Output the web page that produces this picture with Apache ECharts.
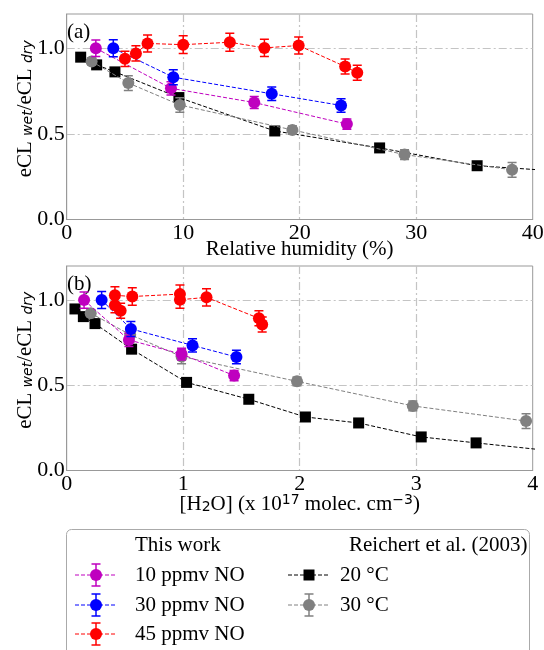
<!DOCTYPE html>
<html><head><meta charset="utf-8">
<script src="https://cdn.jsdelivr.net/npm/echarts@6/dist/echarts.min.js"></script>
<style>html,body{margin:0;padding:0;background:#fff}#c{width:544px;height:650px}</style>
</head><body><div id="c"></div><script>
// ---- data ----
const rhTicks = [0, 10, 20, 30, 40];
const h2oTicks = [0, 1, 2, 3, 4];
const yTicks = [0.0, 0.5, 1.0];

// This work, 10 ppmv NO
const no10_rh = [2.5, 8.95, 16.1, 24.05];
const no10_h2o = [0.149, 0.534, 0.986, 1.437];
const no10_y = [1.0, 0.766, 0.683, 0.557];
const no10_err = [0.048, 0.039, 0.035, 0.03];
// This work, 30 ppmv NO
const no30_rh = [4.0, 9.15, 17.6, 23.55];
const no30_h2o = [0.30, 0.551, 1.08, 1.457];
const no30_y = [1.0, 0.831, 0.734, 0.666];
const no30_err = [0.05, 0.044, 0.039, 0.039];
// This work, 45 ppmv NO
const no45_rh = [5.0, 5.94, 6.94, 10.0, 14.0, 16.97, 19.91, 23.9, 24.94];
const no45_h2o = [0.463, 0.414, 0.414, 0.563, 0.972, 0.972, 1.20, 1.65, 1.678];
const no45_y = [0.938, 0.97, 1.028, 1.021, 1.035, 1.002, 1.016, 0.893, 0.857];
const no45_err = [0.044, 0.045, 0.05, 0.052, 0.053, 0.05, 0.05, 0.044, 0.044];
// Reichert et al. (2003), 20 °C
const t20_rh = [1.2, 2.57, 4.14, 9.63, 17.86, 26.86, 35.23, 43.0, 52.3, 60.4, 77.4];
const t20_h2o = [0.071, 0.143, 0.243, 0.557, 1.029, 1.563, 2.049, 2.506, 3.043, 3.514, 4.5];
const t20_y = [0.948, 0.903, 0.862, 0.712, 0.517, 0.418, 0.314, 0.279, 0.197, 0.162, 0.091];
// Reichert et al. (2003), 30 °C
const t30_rh = [2.14, 5.29, 9.71, 19.37, 29.0, 38.23];
const t30_h2o = [0.206, 0.545, 0.986, 1.977, 2.971, 3.943];
const t30_y = [0.923, 0.797, 0.669, 0.523, 0.379, 0.29];
const t30_err = [0.02, 0.043, 0.042, 0.025, 0.029, 0.043];

// ---- styles ----
const SERIF = 'Liberation Serif';
const FS = 21;
const C = {m: '#bf00bf', b: '#0000ff', r: '#ff0000', k: '#000000', g: '#808080'};

const zip = (xs, ys) => xs.map((x, i) => [x, ys[i]]);

function lineSeries(xs, ys, color, symbol, size, gi, z) {
  return {
    type: 'line', xAxisIndex: gi, yAxisIndex: gi, data: zip(xs, ys),
    symbol: symbol, symbolSize: size, showSymbol: true, clip: true,
    itemStyle: {color: color}, lineStyle: {color: color, width: 1, type: [4, 2]},
    emphasis: {disabled: true}, z: z, silent: true
  };
}
function errSeries(xs, ys, es, color, gi, z) {
  return {
    type: 'custom', xAxisIndex: gi, yAxisIndex: gi, clip: true, z: z, silent: true,
    data: xs.map((x, i) => [x, ys[i] - es[i], ys[i] + es[i]]),
    encode: {x: 0, y: [1, 2]},
    renderItem: function (params, api) {
      const lo = api.coord([api.value(0), api.value(1)]);
      const hi = api.coord([api.value(0), api.value(2)]);
      const w = 4.5, st = {stroke: color, lineWidth: 1.5};
      return {type: 'group', children: [
        {type: 'line', shape: {x1: lo[0], y1: lo[1], x2: hi[0], y2: hi[1]}, style: st},
        {type: 'line', shape: {x1: lo[0] - w, y1: lo[1], x2: lo[0] + w, y2: lo[1]}, style: st},
        {type: 'line', shape: {x1: hi[0] - w, y1: hi[1], x2: hi[0] + w, y2: hi[1]}, style: st}
      ]};
    }
  };
}

const split = {show: true, showMinLine: false, showMaxLine: false,
  lineStyle: {color: '#c4c4c4', width: 1.2, type: [8, 3, 2, 3]}};
const axLine = {show: true, lineStyle: {color: '#999', width: 1}};

function xAx(gi, max, name, rich, gap) {
  return {type: 'value', gridIndex: gi, min: 0, max: max, interval: max / 4,
    axisLine: axLine, axisTick: {show: false}, splitLine: split,
    axisLabel: {fontFamily: SERIF, fontSize: 22, color: '#000', margin: 3},
    name: name, nameLocation: 'middle', nameGap: gap, nameMoveOverlap: false,
    nameTextStyle: {fontFamily: SERIF, fontSize: FS, color: '#000', rich: rich}};
}
const yRich = {
  m: {fontFamily: SERIF, fontSize: FS, color: '#000'},
  s: {fontFamily: 'DejaVu Sans', fontStyle: 'italic', fontSize: 14, color: '#000', verticalAlign: 'bottom'}
};
function yAx(gi) {
  return {type: 'value', gridIndex: gi, min: 0, max: 1.2, interval: 0.5,
    axisLine: axLine, axisTick: {show: false}, splitLine: split,
    axisLabel: {fontFamily: SERIF, fontSize: 22, color: '#000', margin: 2, showMaxLabel: false,
      formatter: v => v.toFixed(1)},
    name: '{m|eCL }{s|wet}{m|/eCL }{s|dry}', nameLocation: 'middle', nameGap: 31, nameRotate: 90,
    nameMoveOverlap: false,
    nameTextStyle: {rich: yRich, padding: [0, 0, 0, 16]}};
}
const xRichB = {
  m: {fontFamily: SERIF, fontSize: FS, color: '#000'},
  sub: {fontFamily: 'DejaVu Sans', fontSize: 14, color: '#000', verticalAlign: 'bottom'},
  sup: {fontFamily: 'DejaVu Sans', fontSize: 14, color: '#000', verticalAlign: 'top'}
};

const series = [];
[0, 1].forEach(gi => {
  const X = (rh, h2o) => gi === 0 ? rh : h2o;
  let z = 2;
  series.push(lineSeries(X(t20_rh, t20_h2o), t20_y, C.k, 'rect', 11, gi, z++));
  series.push(errSeries(X(t30_rh, t30_h2o), t30_y, t30_err, C.g, gi, z++));
  series.push(lineSeries(X(t30_rh, t30_h2o), t30_y, C.g, 'circle', 12, gi, z++));
  series.push(errSeries(X(no10_rh, no10_h2o), no10_y, no10_err, C.m, gi, z++));
  series.push(lineSeries(X(no10_rh, no10_h2o), no10_y, C.m, 'circle', 12, gi, z++));
  series.push(errSeries(X(no30_rh, no30_h2o), no30_y, no30_err, C.b, gi, z++));
  series.push(lineSeries(X(no30_rh, no30_h2o), no30_y, C.b, 'circle', 12, gi, z++));
  series.push(errSeries(X(no45_rh, no45_h2o), no45_y, no45_err, C.r, gi, z++));
  series.push(lineSeries(X(no45_rh, no45_h2o), no45_y, C.r, 'circle', 12, gi, z++));
});

// ---- legend (drawn as graphics) ----
function legIcon(cx, cy, color, symbol, withErr) {
  const ch = [
    {type: 'line', shape: {x1: cx - 21, y1: cy, x2: cx + 21, y2: cy},
      style: {stroke: color, lineWidth: 1, lineDash: [4, 2]}}
  ];
  if (withErr) {
    const st = {stroke: color, lineWidth: 1.5};
    ch.push({type: 'line', shape: {x1: cx, y1: cy - 11, x2: cx, y2: cy + 11}, style: st});
    ch.push({type: 'line', shape: {x1: cx - 4.5, y1: cy - 11, x2: cx + 4.5, y2: cy - 11}, style: st});
    ch.push({type: 'line', shape: {x1: cx - 4.5, y1: cy + 11, x2: cx + 4.5, y2: cy + 11}, style: st});
  }
  if (symbol === 'rect') ch.push({type: 'rect', shape: {x: cx - 5.5, y: cy - 5.5, width: 11, height: 11}, style: {fill: color}});
  else ch.push({type: 'circle', shape: {cx: cx, cy: cy, r: 6}, style: {fill: color}});
  return ch;
}
const txt = (x, y, s) => ({type: 'text', x: x, y: y,
  style: {text: s, fontFamily: SERIF, fontSize: FS, fill: '#000', verticalAlign: 'middle', align: 'left'}});

const legendRows = [
  {label: '10 ppmv NO', color: C.m, sym: 'circle', err: true},
  {label: '30 ppmv NO', color: C.b, sym: 'circle', err: true},
  {label: '45 ppmv NO', color: C.r, sym: 'circle', err: true}
];
const legendRows2 = [
  {label: '20 °C', color: C.k, sym: 'rect', err: false},
  {label: '30 °C', color: C.g, sym: 'circle', err: true}
];
const rowY = [575, 605, 634];
const graphics = [
  {type: 'rect', shape: {x: 66.5, y: 529.5, width: 463, height: 135, r: 5},
    style: {fill: '#fff', stroke: '#aaa', lineWidth: 1}},
  txt(135, 545, 'This work'),
  txt(349, 545, 'Reichert et al. (2003)'),
  txt(67, 32, '(a)'),
  txt(67, 284, '(b)')
];
legendRows.forEach((r, i) => {
  legIcon(96, rowY[i], r.color, r.sym, r.err).forEach(e => graphics.push(e));
  graphics.push(txt(135, rowY[i], r.label));
});
legendRows2.forEach((r, i) => {
  legIcon(309, rowY[i], r.color, r.sym, r.err).forEach(e => graphics.push(e));
  graphics.push(txt(340, rowY[i], r.label));
});

const option = {
  animation: false,
  backgroundColor: '#fff',
  grid: [
    {left: 66.7, right: 11.3, top: 14, height: 205.5, show: true, borderColor: '#999', borderWidth: 1,
      backgroundColor: 'transparent', containLabel: false, outerBoundsMode: 'none'},
    {left: 66.7, right: 11.3, top: 266, height: 204.5, show: true, borderColor: '#999', borderWidth: 1,
      backgroundColor: 'transparent', containLabel: false, outerBoundsMode: 'none'}
  ],
  xAxis: [
    xAx(0, 40, 'Relative humidity (%)', undefined, 19),
    xAx(1, 4, '{m|[H}{sub|2}{m|O] (x 10}{sup|17}{m| molec. cm}{sup|−3}{m|)}', xRichB, 23)
  ],
  yAxis: [yAx(0), yAx(1)],
  series: series,
  graphic: graphics
};
const chart = echarts.init(document.getElementById('c'), null, {renderer: 'canvas'});
chart.setOption(option);
</script></body></html>
